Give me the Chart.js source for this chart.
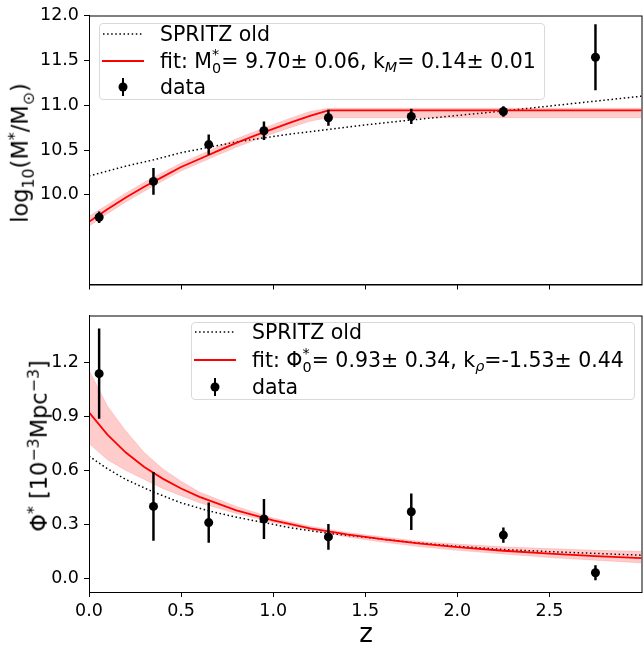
<!DOCTYPE html>
<html>
<head>
<meta charset="utf-8">
<script src="https://cdn.jsdelivr.net/npm/chart.js@4.4.0/dist/chart.umd.min.js"></script>
<style>
	body { margin: 0; background: #fff; overflow: hidden; }
	#wrap { position: relative; width: 643px; height: 646px; overflow: hidden; font-family: 'DejaVu Sans', sans-serif; color: #000; }
	canvas { position: absolute; left: 0; }
	#top { top: 0; }
	#bot { top: 300px; }
	.title { position: absolute; white-space: nowrap; font-size: 22.5px; line-height: 1; }
	.ytitle { transform: translate(-50%, -50%) rotate(-90deg); }
	.xtitle { transform: translate(-50%, -50%); font-size: 26px; }
	.title sub, .title sup { font-size: 0.7em; line-height: 0; }
	.legend { position: absolute; box-sizing: border-box; background: rgba(255, 255, 255, 0.8); border: 1px solid #d9d9d9; border-radius: 4px; font-size: 20.5px; }
	.row { position: absolute; left: 0; right: 0; height: 26px; }
	.row svg { position: absolute; left: 1px; top: 4px; }
	.row span.txt { position: absolute; left: 60px; top: 0; line-height: 26px; white-space: nowrap; }
	.ss { display: inline-block; vertical-align: -0.32em; font-size: 0.7em; line-height: 0.95; }
	.ss b { display: block; font-weight: normal; }
	.sub { font-size: 0.7em; vertical-align: -0.3em; line-height: 0; }
</style>
</head>
<body>
<div id="wrap">
	<canvas id="top" width="646" height="300"></canvas>
	<canvas id="bot" width="646" height="346"></canvas>

	<div class="title ytitle" style="left:20px; top:153px;">log<sub>10</sub>(M<sup>*</sup>/M<sub>⊙</sub>)</div>
	<div class="title ytitle" style="left:39px; top:446px;">Φ<sup>*</sup> [10<sup>−3</sup>Mpc<sup>−3</sup>]</div>
	<div class="title xtitle" style="left:366px; top:633px;">z</div>

	<div class="legend" style="left:99px; top:23px; width:446px; height:77px;">
		<div class="row" style="top:-3px;">
			<svg width="44" height="18"><line x1="2" y1="9" x2="42" y2="9" stroke="#000" stroke-width="1.5" stroke-dasharray="1.5 2.6"/></svg>
			<span class="txt">SPRITZ old</span>
		</div>
		<div class="row" style="top:24px;">
			<svg width="44" height="18"><line x1="1" y1="9" x2="43" y2="9" stroke="#ff0000" stroke-width="2"/></svg>
			<span class="txt">fit: M<span class="ss"><b>*</b><b>0</b></span>= 9.70± 0.06, k<span class="sub"><i>M</i></span>= 0.14± 0.01</span>
		</div>
		<div class="row" style="top:50px;">
			<svg width="44" height="18"><line x1="22" y1="0" x2="22" y2="18" stroke="#000" stroke-width="2"/><circle cx="22" cy="9" r="4.5" fill="#000"/></svg>
			<span class="txt">data</span>
		</div>
	</div>

	<div class="legend" style="left:191px; top:322px; width:444px; height:78px;">
		<div class="row" style="top:-4px;">
			<svg width="44" height="18"><line x1="2" y1="9" x2="42" y2="9" stroke="#000" stroke-width="1.5" stroke-dasharray="1.5 2.6"/></svg>
			<span class="txt">SPRITZ old</span>
		</div>
		<div class="row" style="top:24px;">
			<svg width="44" height="18"><line x1="1" y1="9" x2="43" y2="9" stroke="#ff0000" stroke-width="2"/></svg>
			<span class="txt">fit: Φ<span class="ss"><b>*</b><b>0</b></span>= 0.93± 0.34, k<span class="sub"><i>ρ</i></span>=-1.53± 0.44</span>
		</div>
		<div class="row" style="top:51px;">
			<svg width="44" height="18"><line x1="22" y1="0" x2="22" y2="18" stroke="#000" stroke-width="2"/><circle cx="22" cy="9" r="4.5" fill="#000"/></svg>
			<span class="txt">data</span>
		</div>
	</div>
</div>

<script>
// redshift bins (centres) and measured values
const zBins = [0.055, 0.35, 0.65, 0.95, 1.3, 1.75, 2.25, 2.75];
const massVals = [9.75, 10.15, 10.56, 10.715, 10.86, 10.875, 10.93, 11.535];
const massErr = [0.06, 0.145, 0.11, 0.1, 0.085, 0.08, 0.055, 0.365];
const phiVals = [1.14, 0.40, 0.31, 0.33, 0.23, 0.37, 0.24, 0.03];
const phiErr = [0.25, 0.19, 0.11, 0.11, 0.07, 0.10, 0.04, 0.04];

// fit curve + 1 sigma band, top panel
const massFitZ = [0, 0.1, 0.2, 0.3, 0.4, 0.5, 0.6, 0.7, 0.8, 0.9, 1.0, 1.1, 1.2, 1.3, 2.0, 3.0];
const massFit = [9.70, 9.84, 9.97, 10.09, 10.20, 10.31, 10.40, 10.49, 10.58, 10.66, 10.735, 10.81, 10.88, 10.943, 10.943, 10.943];
const massFitHi = [9.76, 9.89, 10.02, 10.14, 10.25, 10.355, 10.445, 10.535, 10.625, 10.705, 10.785, 10.86, 10.93, 10.965, 10.965, 10.965];
const massFitLo = [9.65, 9.79, 9.92, 10.04, 10.155, 10.265, 10.355, 10.445, 10.53, 10.61, 10.685, 10.755, 10.82, 10.86, 10.86, 10.86];

// old SPRITZ model, top panel
const spritzMZ = [0, 0.2, 0.35, 0.5, 0.65, 0.8, 0.95, 1.1, 1.3, 1.5, 1.75, 2.0, 2.25, 2.5, 2.75, 3.0];
const spritzM = [10.21, 10.32, 10.39, 10.47, 10.53, 10.59, 10.635, 10.68, 10.73, 10.78, 10.835, 10.885, 10.935, 10.99, 11.045, 11.10];

// fit curve + band, bottom panel
const phiFitZ = [0, 0.1, 0.2, 0.3, 0.4, 0.5, 0.6, 0.8, 1.0, 1.2, 1.4, 1.6, 1.8, 2.0, 2.25, 2.5, 2.75, 3.0];
const phiFit = [0.925, 0.80, 0.70, 0.62, 0.555, 0.50, 0.453, 0.378, 0.322, 0.278, 0.244, 0.216, 0.193, 0.173, 0.153, 0.137, 0.123, 0.112];
const phiFitHi = [1.16, 0.96, 0.82, 0.70, 0.61, 0.54, 0.48, 0.40, 0.335, 0.29, 0.255, 0.23, 0.205, 0.19, 0.175, 0.165, 0.155, 0.15];
const phiFitLo = [0.75, 0.66, 0.60, 0.55, 0.50, 0.46, 0.42, 0.36, 0.31, 0.27, 0.23, 0.20, 0.175, 0.155, 0.135, 0.115, 0.10, 0.085];

// old SPRITZ model, bottom panel
const spritzPZ = [0, 0.1, 0.2, 0.35, 0.5, 0.65, 0.8, 0.95, 1.1, 1.3, 1.5, 1.75, 2.0, 2.25, 2.5, 2.75, 3.0];
const spritzP = [0.68, 0.61, 0.55, 0.48, 0.42, 0.375, 0.34, 0.31, 0.28, 0.25, 0.228, 0.2, 0.178, 0.16, 0.148, 0.138, 0.128];

// axis ticks
const zTicks = [0, 0.5, 1.0, 1.5, 2.0, 2.5, 3.0];
const massTicks = [10.0, 10.5, 11.0, 11.5, 12.0];
const phiTicks = [0.0, 0.3, 0.6, 0.9, 1.2];

Chart.defaults.font.family = "'DejaVu Sans', sans-serif";
Chart.defaults.font.size = 17.5;
Chart.defaults.color = '#000';

const pts = (xs, ys) => xs.map((x, i) => ({ x: x, y: ys[i] }));

const frame = {
	id: 'frame',
	afterDatasetsDraw(chart) {
		const a = chart.chartArea;
		const ctx = chart.ctx;
		ctx.save();
		ctx.strokeStyle = '#000';
		ctx.lineWidth = 1;
		ctx.strokeRect(a.left + 0.5, a.top + 0.5, a.right - a.left, a.bottom - a.top);
		ctx.restore();
	},
};

function makePanel(id, cfg) {
	const datasets = [
		{
			type: 'scatter', data: pts(zBins, cfg.vals), showLine: false,
			pointRadius: 4.5, pointHoverRadius: 4.5, backgroundColor: '#000', borderColor: '#000', borderWidth: 0, order: 0,
		},
		{
			type: 'bar', data: zBins.map((z, i) => ({ x: z, y: [cfg.vals[i] - cfg.err[i], cfg.vals[i] + cfg.err[i]] })),
			backgroundColor: '#000', borderWidth: 0, barThickness: 1.8, order: 1,
		},
		{
			type: 'scatter', data: pts(cfg.fitZ, cfg.fit), showLine: true, pointRadius: 0,
			borderColor: '#ff0000', borderWidth: 1.8, order: 2,
		},
		{
			type: 'scatter', data: pts(cfg.fitZ, cfg.fitHi), showLine: true, pointRadius: 0,
			borderColor: 'rgba(255,0,0,0.12)', borderWidth: 1, fill: false, order: 3,
		},
		{
			type: 'scatter', data: pts(cfg.fitZ, cfg.fitLo), showLine: true, pointRadius: 0,
			borderColor: 'rgba(255,0,0,0.12)', borderWidth: 1, fill: '-1', backgroundColor: 'rgba(255,0,0,0.2)', order: 3,
		},
		{
			type: 'scatter', data: pts(cfg.oldZ, cfg.old), showLine: true, pointRadius: 0,
			borderColor: '#000', borderWidth: 1.5, borderDash: [1.5, 2.6], order: 4,
		},
	];

	return new Chart(document.getElementById(id), {
		type: 'scatter',
		data: { datasets: datasets },
		options: {
			responsive: false,
			animation: false,
			devicePixelRatio: 1,
			layout: { padding: { top: cfg.padTop, right: 2, left: 0, bottom: 0 } },
			plugins: { legend: { display: false }, tooltip: { enabled: false } },
			scales: {
				x: {
					type: 'linear', min: 0, max: 3, offset: false,
					border: { display: true, color: '#000', width: 1 },
					grid: { offset: false, drawOnChartArea: false, drawTicks: true, tickLength: 5, color: '#000' },
					ticks: { display: cfg.xLabels, padding: 4, callback: (v) => v.toFixed(1) },
					afterBuildTicks: (s) => { s.ticks = zTicks.filter((t) => t < 2.9).map((t) => ({ value: t })); },
					afterFit: (s) => { s.height = cfg.xHeight; },
				},
				y: {
					type: 'linear', min: cfg.yMin, max: cfg.yMax,
					border: { display: true, color: '#000', width: 1 },
					grid: { drawOnChartArea: false, drawTicks: true, tickLength: 5, color: '#000' },
					ticks: { padding: 5, callback: (v) => v.toFixed(1) },
					afterBuildTicks: (s) => { s.ticks = cfg.yTicks.map((t) => ({ value: t })); },
					afterFit: (s) => { s.width = 89; },
				},
			},
		},
		plugins: [frame],
	});
}

makePanel('top', {
	vals: massVals, err: massErr,
	fitZ: massFitZ, fit: massFit, fitHi: massFitHi, fitLo: massFitLo,
	oldZ: spritzMZ, old: spritzM,
	yMin: 9.0, yMax: 12.0, yTicks: massTicks,
	padTop: 12, xHeight: 7, xLabels: false,
});

makePanel('bot', {
	vals: phiVals, err: phiErr,
	fitZ: phiFitZ, fit: phiFit, fitHi: phiFitHi, fitLo: phiFitLo,
	oldZ: spritzPZ, old: spritzP,
	yMin: -0.077, yMax: 1.464, yTicks: phiTicks,
	padTop: 11, xHeight: 54, xLabels: true,
});
</script>
</body>
</html>
